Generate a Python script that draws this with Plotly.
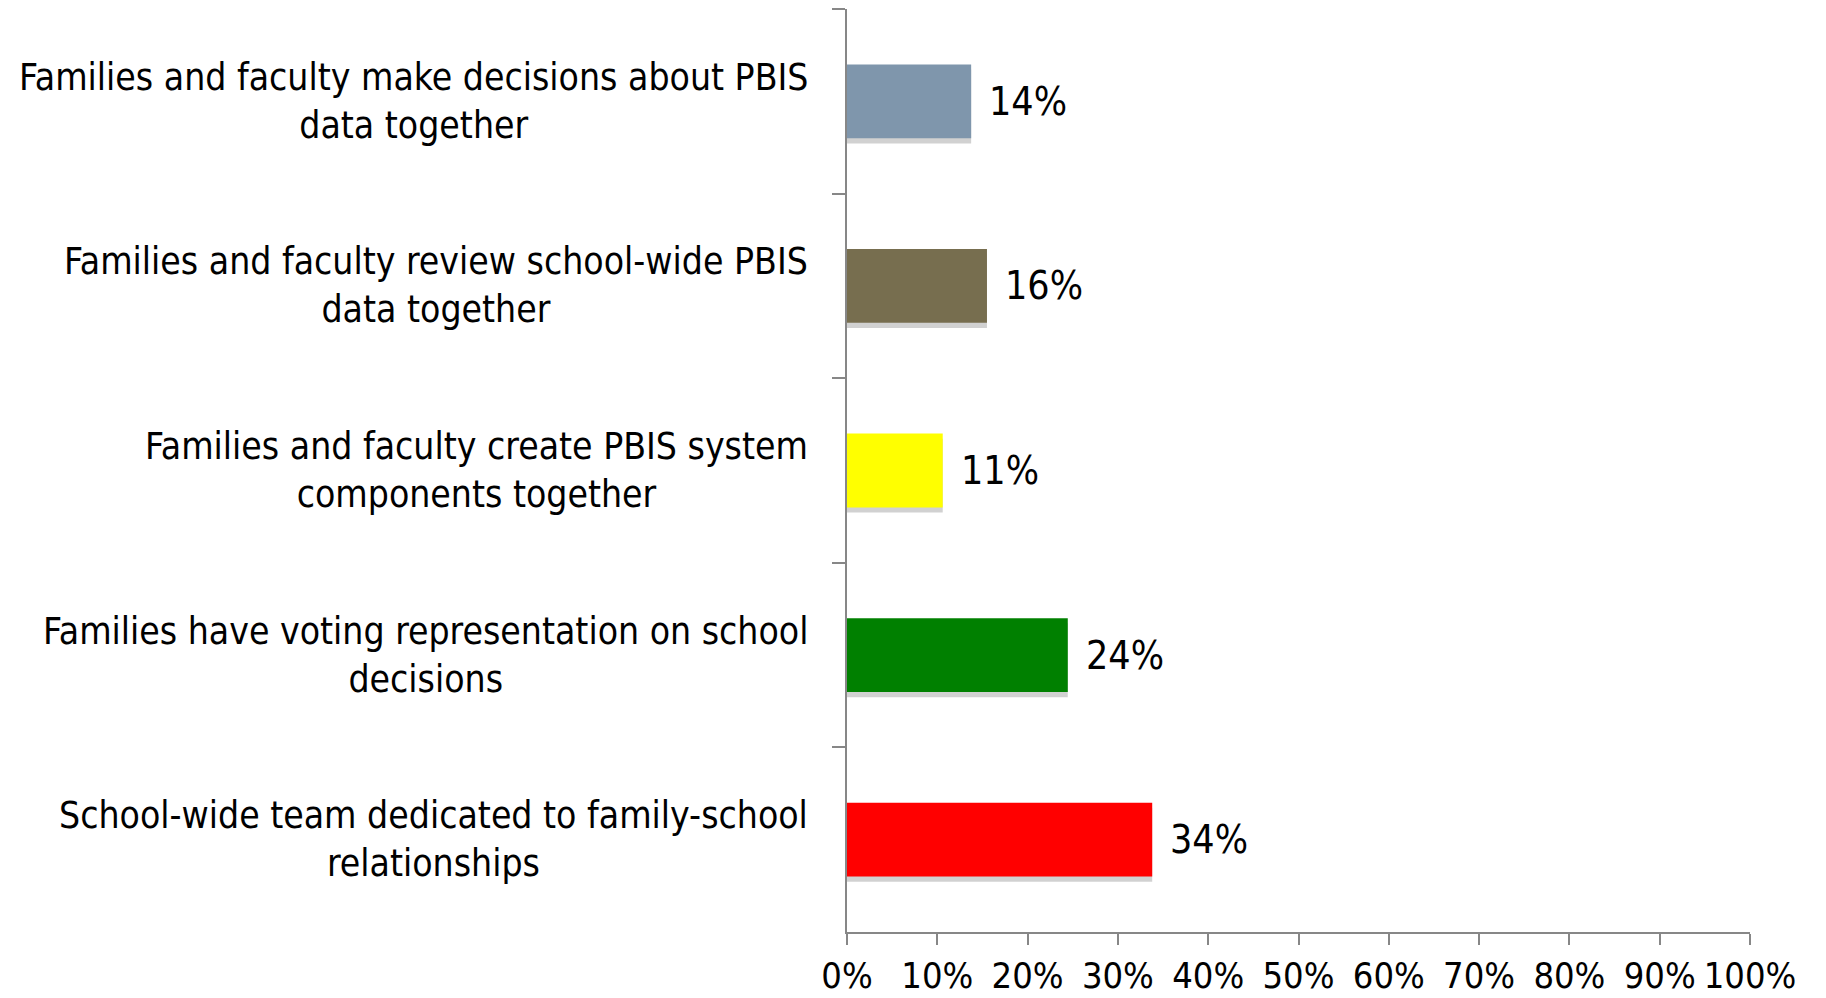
import plotly.graph_objects as go

categories = [
    "Families and faculty make decisions about PBIS<br>data together",
    "Families and faculty review school-wide PBIS<br>data together",
    "Families and faculty create PBIS system<br>components together",
    "Families have voting representation on school<br>decisions",
    "School-wide team dedicated to family-school<br>relationships",
]
values = [0.1375, 0.155, 0.106, 0.2445, 0.338]
value_labels = ["14%", "16%", "11%", "24%", "34%"]
colors = ["#7F96AC", "#776E4F", "#FFFF00", "#008000", "#FF0000"]
x_tick_values = [i / 10 for i in range(11)]
x_tick_labels = [f"{i*10}%" for i in range(11)]

FONT = "DejaVu Sans Condensed, DejaVu Sans, sans-serif"
AXIS_COLOR = "#878787"

fig = go.Figure()
# soft drop shadow
fig.add_trace(go.Bar(
    x=values, y=categories, orientation="h",
    marker=dict(color="rgba(0,0,0,0.18)", line=dict(width=0)),
    width=0.4, offset=-0.2 + 0.028, hoverinfo="skip", showlegend=False,
))
fig.add_trace(go.Bar(
    x=values, y=categories, orientation="h",
    marker=dict(color=colors, line=dict(width=0)),
    width=0.4, offset=-0.2, showlegend=False,
))

annotations = []
for cat, v, lab in zip(categories, values, value_labels):
    annotations.append(dict(
        x=0, xref="paper", y=cat, yref="y", text=cat, showarrow=False,
        xanchor="right", yanchor="middle", align="center", xshift=-37,
        font=dict(family=FONT, size=37, color="#000000"),
    ))
    annotations.append(dict(
        x=v, xref="x", y=cat, yref="y", text=lab, showarrow=False,
        xanchor="left", yanchor="middle", xshift=16,
        font=dict(family=FONT, size=39, color="#000000"),
    ))

fig.update_layout(
    width=1826, height=998,
    margin=dict(l=847, r=76, t=9, b=66),
    paper_bgcolor="white", plot_bgcolor="white",
    bargap=0.6, barmode="overlay",
    annotations=annotations,
    xaxis=dict(
        range=[0, 1], tickvals=x_tick_values, ticktext=x_tick_labels,
        automargin=False,
        showgrid=False, zeroline=False, showline=True,
        linecolor=AXIS_COLOR, linewidth=2,
        ticks="outside", ticklen=11, tickwidth=2, tickcolor=AXIS_COLOR,
        ticklabelstandoff=0,
        tickfont=dict(family=FONT, size=36, color="#000000"),
    ),
    yaxis=dict(
        type="category", categoryorder="array", categoryarray=categories,
        autorange="reversed", tickson="boundaries", automargin=False,
        showgrid=False, zeroline=False, showline=True,
        linecolor=AXIS_COLOR, linewidth=2,
        ticks="outside", ticklen=13, tickwidth=2, tickcolor=AXIS_COLOR,
        showticklabels=False,
    ),
)
fig.write_html("out.html")
